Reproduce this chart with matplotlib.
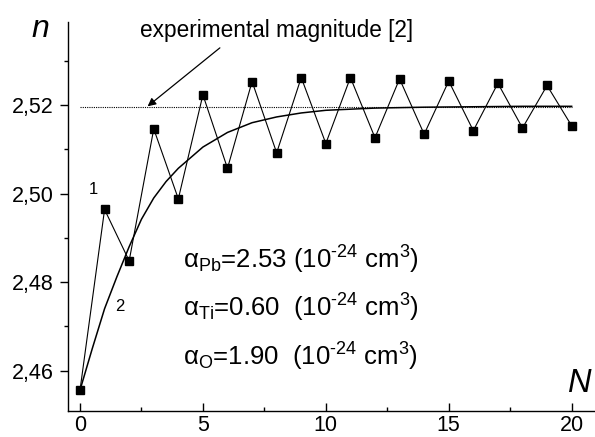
import matplotlib
matplotlib.use("Agg")
import matplotlib.pyplot as plt
from matplotlib.ticker import FixedLocator, FixedFormatter, MultipleLocator

plt.rcParams['font.family'] = ['Liberation Sans', 'DejaVu Sans']
plt.rcParams['mathtext.fontset'] = 'custom'
plt.rcParams['mathtext.rm'] = 'Liberation Sans'
plt.rcParams['mathtext.it'] = 'Liberation Sans:italic'
plt.rcParams['mathtext.sf'] = 'Liberation Sans'

# ---- data ----
N_points = list(range(21))
n_points = [2.4556, 2.4964, 2.4848, 2.5146, 2.4988, 2.5223, 2.5057, 2.5253,
            2.5092, 2.5262, 2.5113, 2.5262, 2.5126, 2.5259, 2.5134, 2.5254,
            2.5142, 2.5249, 2.5148, 2.5244, 2.5153]

N_curve = [0, 0.5, 1, 1.5, 2, 2.5, 3, 3.5, 4, 5, 6, 7, 8, 9, 10, 12, 14, 16, 18, 20]
n_curve = [2.4556, 2.4650, 2.4740, 2.4812, 2.4880, 2.4942, 2.4990, 2.5027,
           2.5057, 2.5105, 2.5138, 2.5160, 2.5173, 2.5182, 2.5188, 2.5193,
           2.5195, 2.5196, 2.5197, 2.5197]

exp_N = [0, 20]
exp_value = 2.5195

xticks = [0, 5, 10, 15, 20]
xticklabels = ['0', '5', '10', '15', '20']
yticks = [2.46, 2.48, 2.50, 2.52]
yticklabels = ['2,46', '2,48', '2,50', '2,52']

W, H = 595, 437
fig = plt.figure(figsize=(W / 100, H / 100), dpi=100)
ax = fig.add_axes([68.3 / W, 1 - 410.7 / H, 1 - 68.3 / W, (410.7 - 22) / H])

def px(x, y):
    return (x / W, 1 - y / H)

ax.plot(exp_N, [exp_value] * len(exp_N), color='black', lw=0.8,
        dashes=(1, 1))
ax.plot(N_curve, n_curve, color='black', lw=1.1)
ax.plot(N_points, n_points, color='black', lw=0.8, marker='s', ms=6.2,
        mfc='black', mec='black')

ax.set_xlim(-0.476, 20.95)
ax.set_ylim(2.45096, 2.53874)

for s in ['top', 'right']:
    ax.spines[s].set_visible(False)
for s in ['left', 'bottom']:
    ax.spines[s].set_linewidth(1.0)

ax.xaxis.set_major_locator(FixedLocator(xticks))
ax.xaxis.set_major_formatter(FixedFormatter(xticklabels))
ax.xaxis.set_minor_locator(MultipleLocator(2.5))
ax.yaxis.set_major_locator(FixedLocator(yticks))
ax.yaxis.set_major_formatter(FixedFormatter(yticklabels))
ax.yaxis.set_minor_locator(MultipleLocator(0.01))

ax.tick_params(axis='x', which='major', direction='in', length=6, width=1.0,
               labelsize=15.5, pad=3)
ax.tick_params(axis='x', which='minor', direction='in', length=3, width=1.0)
ax.tick_params(axis='y', which='major', direction='out', length=6, width=1.0,
               labelsize=15.5, pad=4.5)
ax.tick_params(axis='y', which='minor', direction='out', length=3, width=1.0)

# axis labels
fig.text(*px(40.7, 37.3), 'n', fontsize=23, style='italic', ha='center',
         va='baseline')
fig.text(*px(580, 392), 'N', fontsize=23.5, style='italic', ha='center',
         va='baseline')

# annotation
fig.text(*px(140, 37), 'experimental magnitude [2]', fontsize=16.3,
         ha='left', va='baseline')
ax.annotate('', xy=(2.75, exp_value + 0.0002), xytext=(5.69, 2.5329),
            arrowprops=dict(arrowstyle='-|>', color='black', lw=0.9,
                            mutation_scale=12, shrinkA=0, shrinkB=0))

# curve labels
fig.text(*px(93.3, 190), '1', fontsize=12, ha='center', va='center')
fig.text(*px(120, 306.7), '2', fontsize=12, ha='center', va='center')

# polarizabilities
hy = '\u2010'
lines = [r'$\mathrm{\alpha_{Pb}}$=2.53 (10$^{\mathrm{' + hy + r'24}}$ cm$^{\mathrm{3}}$)',
         r'$\mathrm{\alpha_{Ti}}$=0.60  (10$^{\mathrm{' + hy + r'24}}$ cm$^{\mathrm{3}}$)',
         r'$\mathrm{\alpha_{O}}$=1.90  (10$^{\mathrm{' + hy + r'24}}$ cm$^{\mathrm{3}}$)']
for i, t in enumerate(lines):
    fig.text(*px(183, 268.3 + 48.7 * i), t, fontsize=18.5, ha='left',
             va='baseline')

fig.savefig('out.png', dpi=100)
